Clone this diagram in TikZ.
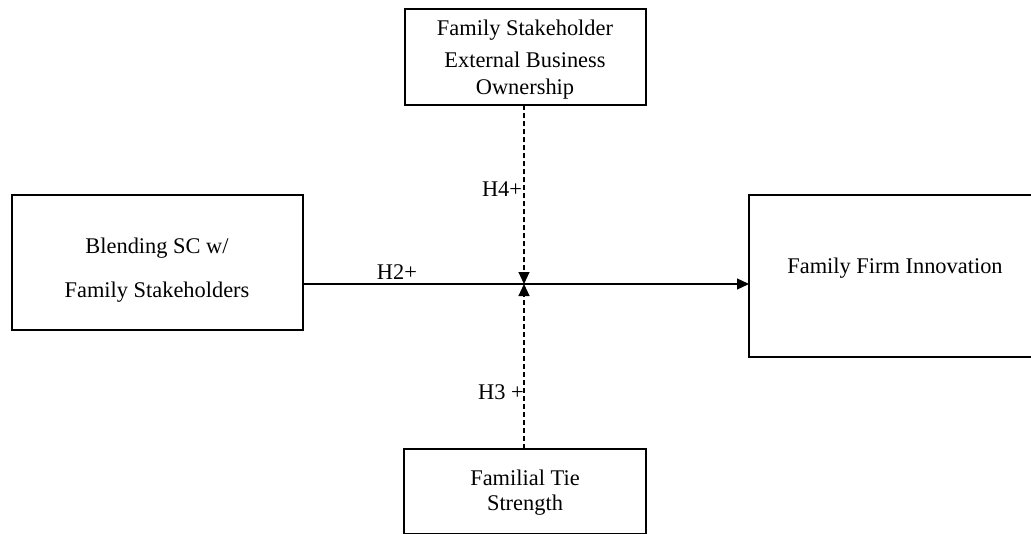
\documentclass[tikz,border=0pt]{standalone}
\usepackage{fontspec}
\setmainfont{Liberation Serif}
\usetikzlibrary{arrows.meta}
\begin{document}
\begin{tikzpicture}[x=1pt,y=-1pt,
  box/.style={draw, line width=2pt},
  txt/.style={inner sep=0pt, font=\fontsize{22.4}{30}\selectfont, align=center},
  conn/.style={line width=1.2pt, -{Triangle[length=12pt,width=11pt]}},
  dconn/.style={conn, dash pattern=on 5pt off 3pt}]
\useasboundingbox (0,0) rectangle (1031,533);
\fill[white] (0,0) rectangle (1031,533);
% boxes
\draw[box] (405,9) rectangle (646,105);
\draw[box] (12,195) rectangle (303,330);
\draw[box] (749,195) rectangle (1040,357);
\draw[box] (404,449) rectangle (646,534);
% named anchors
\coordinate (topb) at (524,105);
\coordinate (botb) at (524,449);
\coordinate (leftb) at (303,284);
\coordinate (rightb) at (749,284);
\coordinate (mid) at (524,284);
% texts
\node[txt] (t1) at (525,30) {Family Stakeholder};
\node[txt] (t2) at (525,60) {External Business};
\node[txt] (t3) at (525,89) {Ownership};
\node[txt] (l1) at (157,248) {Blending SC w/};
\node[txt] (l2) at (157,292) {Family Stakeholders};
\node[txt] (r1) at (895,268) {Family Firm Innovation};
\node[txt] (b1) at (525,478) {Familial Tie};
\node[txt] (b2) at (525,505) {Strength};
\node[txt] (h4) at (502,189) {H4+};
\node[txt] (h2) at (397,272) {H2+};
\node[txt] (h3) at (501,392) {H3 +};
% connectors
\draw[conn] (leftb) -- (rightb);
\draw[dconn] (topb) -- (mid);
\draw[dconn] (botb) -- (mid);
\end{tikzpicture}
\end{document}
